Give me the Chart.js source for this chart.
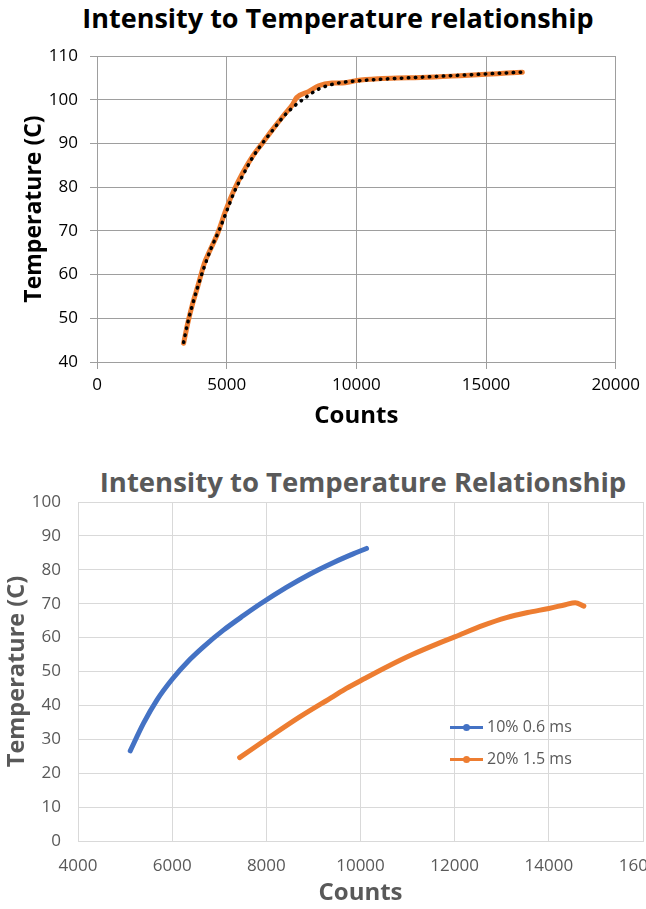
<!DOCTYPE html>
<html>
<head>
  <meta charset="utf-8">
  <title>Intensity to Temperature</title>
  <style>
    body { margin: 0; width: 646px; height: 909px; overflow: hidden; position: relative; background: #fff; font-family: 'Open Sans', sans-serif; }
    .box { position: absolute; left: 0; }
    .ttl { position: absolute; left: 0; height: 36px; line-height: 36px; text-align: center; font-weight: bold; font-size: 27px; white-space: nowrap; }
    #legend { position: absolute; left: 450px; top: 711px; color: #595959; font-size: 16px; }
    .item { height: 31.5px; line-height: 31.5px; white-space: nowrap; }
    .swatch { display: inline-block; position: relative; width: 33px; height: 3px; vertical-align: middle; margin-right: 4px; }
    .dot { position: absolute; left: 13px; top: -2px; width: 7px; height: 7px; border-radius: 50%; }
  </style>
</head>
<body>
<script src="https://cdn.jsdelivr.net/npm/chart.js"></script>

<div class="ttl" style="top:0; width:676px; color:#000;">Intensity to Temperature relationship</div>
<div class="box" style="top:0;"><canvas id="chart1" width="646" height="440"></canvas></div>

<div class="ttl" style="top:464px; width:726px; color:#595959; font-size:27.5px;">Intensity to Temperature Relationship</div>
<div class="box" style="top:450px;"><canvas id="chart2" width="700" height="459"></canvas></div>
<div id="legend"></div>

<script>
  // top chart: measured curve and its trendline
  var countsMeasured = [3340, 3500, 3690, 3880, 4140, 4330, 4650, 4970, 5290, 5610, 5990, 6370, 6760, 7210, 7530, 7700, 8170, 8550, 9060, 9570, 10020, 10860, 12000, 13000, 14000, 15000, 15800, 16400];
  var tempMeasured   = [44.3, 48.9, 53.4, 57.2, 62.6, 65.2, 69.4, 74.8, 79.4, 83.2, 87.0, 90.0, 93.1, 96.5, 98.8, 100.5, 101.9, 103.2, 103.8, 103.9, 104.4, 104.8, 105.0, 105.2, 105.5, 105.8, 106.1, 106.3];

  var countsTrend = [3340, 3500, 3700, 3900, 4150, 4400, 4700, 5000, 5300, 5650, 6000, 6400, 6800, 7200, 7600, 8000, 8500, 9000, 9500, 10000, 11000, 12000, 13000, 14000, 15000, 16400];
  var tempTrend   = [44.5, 49.0, 53.5, 57.5, 62.0, 66.0, 70.0, 74.5, 79.0, 83.0, 86.8, 90.2, 93.2, 96.2, 98.5, 100.3, 102.3, 103.4, 104.0, 104.3, 104.7, 105.0, 105.3, 105.6, 105.9, 106.3];

  // bottom chart: two exposure settings
  var labelBlue = '10% 0.6 ms';
  var countsBlue = [5110, 5390, 5672, 6000, 6380, 6664, 7089, 7514, 7868, 8426, 8922, 9418, 9844, 10128];
  var tempBlue   = [26.6, 34.7, 41.5, 47.7, 53.6, 57.3, 62.2, 66.5, 69.9, 74.8, 78.7, 82.1, 84.7, 86.3];

  var labelOrange = '20% 1.5 ms';
  var countsOrange = [7433, 8000, 8709, 9418, 9700, 10100, 10400, 10840, 11100, 11694, 12000, 12604, 13100, 13550, 14000, 14350, 14560, 14744];
  var tempOrange   = [24.6, 30.0, 36.6, 42.6, 45.0, 48.0, 50.2, 53.3, 55.0, 58.5, 60.2, 63.6, 65.9, 67.4, 68.6, 69.7, 70.3, 69.3];

  var FONT = "'Open Sans', sans-serif";

  function pairs(xs, ys) {
    var out = [];
    for (var i = 0; i < xs.length; i++) {
      out.push({x: xs[i], y: ys[i]});
    }
    return out;
  }

  function plain(v) { return String(v); }

  // chart 1
  var gridTop = '#9e9e9e';
  new Chart(document.getElementById('chart1'), {
    type: 'scatter',
    data: {
      datasets: [
        {
          label: 'Trend',
          data: pairs(countsTrend, tempTrend),
          showLine: true,
          borderColor: '#000',
          borderWidth: 3.5,
          borderDash: [0.5, 6.5],
          borderCapStyle: 'round',
          cubicInterpolationMode: 'monotone',
          pointRadius: 0,
          order: 0
        },
        {
          label: 'Measured',
          data: pairs(countsMeasured, tempMeasured),
          showLine: true,
          borderColor: '#ED7D31',
          borderWidth: 5,
          borderCapStyle: 'round',
          borderJoinStyle: 'round',
          cubicInterpolationMode: 'monotone',
          pointRadius: 0,
          order: 1
        }
      ]
    },
    options: {
      responsive: false,
      animation: false,
      layout: { padding: { top: 56, right: 28, left: 0, bottom: 0 } },
      plugins: { legend: { display: false }, tooltip: { enabled: false } },
      scales: {
        x: {
          type: 'linear', min: 0, max: 20000,
          ticks: { stepSize: 5000, color: '#000', font: { family: FONT, size: 17 }, padding: 6, callback: plain },
          grid: { color: gridTop, tickLength: 7 },
          border: { color: gridTop },
          title: { display: true, text: 'Counts', color: '#000', font: { family: FONT, size: 24, weight: 'bold' }, padding: { top: 0, bottom: 9.6 } },
          afterFit: function(s) { s.height = 78; }
        },
        y: {
          min: 40, max: 110,
          ticks: { stepSize: 10, color: '#000', font: { family: FONT, size: 17 }, padding: 12, callback: plain },
          grid: { color: gridTop, tickLength: 7 },
          border: { color: gridTop },
          title: { display: true, text: 'Temperature (C)', color: '#000', font: { family: FONT, size: 23, weight: 'bold' }, padding: { top: 21, bottom: 0 } },
          afterFit: function(s) { s.width = 97; }
        }
      }
    }
  });

  // chart 2
  var gridBottom = '#d9d9d9';
  var grey = '#595959';
  var chart2 = new Chart(document.getElementById('chart2'), {
    type: 'scatter',
    data: {
      datasets: [
        {
          label: labelBlue,
          data: pairs(countsBlue, tempBlue),
          showLine: true,
          borderColor: '#4472C4',
          backgroundColor: '#4472C4',
          borderWidth: 5,
          borderCapStyle: 'round',
          cubicInterpolationMode: 'monotone',
          pointRadius: 0
        },
        {
          label: labelOrange,
          data: pairs(countsOrange, tempOrange),
          showLine: true,
          borderColor: '#ED7D31',
          backgroundColor: '#ED7D31',
          borderWidth: 5,
          borderCapStyle: 'round',
          cubicInterpolationMode: 'monotone',
          pointRadius: 0
        }
      ]
    },
    options: {
      responsive: false,
      animation: false,
      layout: { padding: { top: 52, right: 57, left: 0, bottom: 0 } },
      plugins: { legend: { display: false }, tooltip: { enabled: false } },
      scales: {
        x: {
          type: 'linear', min: 4000, max: 16000,
          ticks: { stepSize: 2000, color: grey, font: { family: FONT, size: 17 }, padding: 15, callback: plain },
          grid: { color: gridBottom, drawTicks: false },
          border: { color: gridBottom },
          title: { display: true, text: 'Counts', color: grey, font: { family: FONT, size: 24, weight: 'bold' }, padding: { top: 0, bottom: 1.6 } },
          afterFit: function(s) { s.height = 68; }
        },
        y: {
          min: 0, max: 100,
          ticks: { stepSize: 10, color: grey, font: { family: FONT, size: 17 }, padding: 17, callback: plain },
          grid: { color: gridBottom, drawTicks: false },
          border: { color: gridBottom },
          title: { display: true, text: 'Temperature (C)', color: grey, font: { family: FONT, size: 23.5, weight: 'bold' }, padding: { top: 3.5, bottom: 0 } },
          afterFit: function(s) { s.width = 78; }
        }
      }
    }
  });

  // legend built from the datasets
  var legend = document.getElementById('legend');
  chart2.data.datasets.forEach(function(ds) {
    var row = document.createElement('div');
    row.className = 'item';
    var sw = document.createElement('span');
    sw.className = 'swatch';
    sw.style.background = ds.borderColor;
    var dot = document.createElement('span');
    dot.className = 'dot';
    dot.style.background = ds.borderColor;
    sw.appendChild(dot);
    row.appendChild(sw);
    row.appendChild(document.createTextNode(ds.label));
    legend.appendChild(row);
  });
</script>
</body>
</html>
